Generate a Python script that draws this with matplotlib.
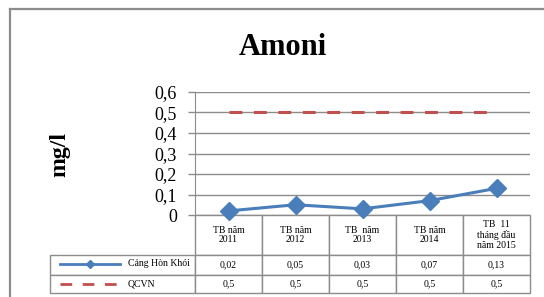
import numpy as np
import matplotlib.pyplot as plt
from matplotlib.table import Table
from matplotlib.lines import Line2D

# data
categories = ['TB năm\n2011', 'TB năm\n2012', 'TB  năm\n2013', 'TB năm\n2014', 'TB  11\ntháng đầu\nnăm 2015']
series_names = ['Cảng Hòn Khói', 'QCVN']
cang_hon_khoi = [0.02, 0.05, 0.03, 0.07, 0.13]
qcvn = [0.5, 0.5, 0.5, 0.5, 0.5]
yticks = [0, 0.1, 0.2, 0.3, 0.4, 0.5, 0.6]

blue = '#4a7ebb'
red = '#c0504d'
grey = '#8c8c8c'
serif = 'Liberation Serif'

W, H = 544, 297
fig = plt.figure(figsize=(W / 100, H / 100), dpi=100)

# plot area in pixels
px_left, px_right, px_top, px_bottom = 195, 530, 92, 215
ax = fig.add_axes([px_left / W, 1 - px_bottom / H, (px_right - px_left) / W, (px_bottom - px_top) / H])

x = np.arange(len(categories))
ax.plot(x, cang_hon_khoi, color=blue, lw=2.2, marker='D', ms=9, clip_on=False, zorder=10)
ax.plot(x, qcvn, color=red, lw=2.2, dashes=(4.2, 3.8), zorder=9)

ax.set_xlim(-0.5, len(categories) - 0.5)
ax.set_ylim(0, 0.6)
ax.set_yticks(yticks)
ax.set_yticklabels([f"{v:g}".replace('.', ',') for v in yticks], fontfamily=serif, fontsize=13)
ax.set_xticks([])
ax.tick_params(axis='y', length=5, width=1, color=grey, pad=8)
ax.grid(axis='y', color=grey, lw=1)
ax.set_axisbelow(True)
for s in ['top', 'right', 'bottom']:
    ax.spines[s].set_visible(False)
ax.spines['left'].set_color(grey)

# data table under the plot
ax_h = px_bottom - px_top
col0_w, col_w = 145, (px_right - px_left) / len(categories)
row_h = [40, 20, 18]
tab_left = px_left - col0_w
tb = Table(ax, bbox=[(tab_left - px_left) / (px_right - px_left), -(sum(row_h)) / ax_h,
                     (px_right - tab_left) / (px_right - px_left), sum(row_h) / ax_h])
rows = [cang_hon_khoi, qcvn]
for j in range(len(categories) + 1):
    w = col0_w if j == 0 else col_w
    c = tb.add_cell(0, j, w, row_h[0], text='' if j == 0 else categories[j - 1], loc='center',
                    edgecolor=grey)
    if j == 0:
        c.visible_edges = ''
    for r, vals in enumerate(rows, start=1):
        txt = '' if j == 0 else f"{vals[j - 1]:g}".replace('.', ',')
        tb.add_cell(r, j, w, row_h[r], text=txt, loc='center', edgecolor=grey)
tb.auto_set_font_size(False)
tb.set_fontsize(7)
for cell in tb.get_celld().values():
    cell.get_text().set_fontfamily(serif)
    cell.get_text().set_linespacing(1.1)
    cell.set_linewidth(1)
ax.add_table(tb)

# legend keys in first column
def fx(px):
    return px / W

def fy(py):
    return 1 - py / H

fig.add_artist(Line2D([fx(60), fx(120)], [fy(264), fy(264)], color=blue, lw=2))
fig.add_artist(Line2D([fx(90)], [fy(264)], color=blue, marker='D', ms=4))
fig.add_artist(Line2D([fx(60), fx(120)], [fy(284), fy(284)], color=red, lw=2, dashes=(4.2, 3.8)))
for name, py in zip(series_names, [264, 284]):
    fig.text(fx(128), fy(py), name, fontfamily=serif, fontsize=7, va='center', ha='left')

# title and y label
fig.text(fx(282.5), fy(47), 'Amoni', fontfamily=serif, fontsize=22, fontweight='bold', ha='center', va='center')
fig.text(fx(60), fy(154.5), 'mg/l', fontfamily=serif, fontsize=17, fontweight='bold', rotation=90,
         ha='center', va='center')

# chart border (left and top)
fig.add_artist(Line2D([fx(9.5), fx(9.5)], [0, fy(8.5)], color=grey, lw=1.6))
fig.add_artist(Line2D([fx(9.5), 1], [fy(8.5), fy(8.5)], color=grey, lw=1.6))

fig.savefig('out.png', dpi=100)
